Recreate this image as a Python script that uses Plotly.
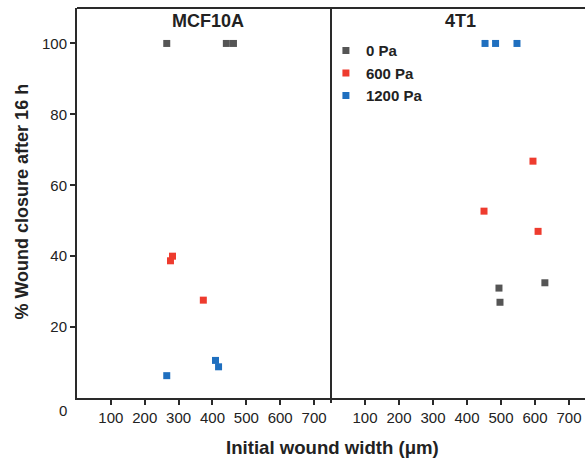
import plotly.graph_objects as go

# Data
groups = ["0 Pa", "600 Pa", "1200 Pa"]
colors = ["#555555", "#ee3b2e", "#1f6fbf"]

mcf_x = {"0 Pa": [265, 441, 462], "600 Pa": [276, 282, 373], "1200 Pa": [265, 409, 418]}
mcf_y = {"0 Pa": [100, 100, 100], "600 Pa": [38.7, 40, 27.6], "1200 Pa": [6.3, 10.6, 8.8]}
t41_x = {"0 Pa": [494, 497, 629], "600 Pa": [450, 594, 609], "1200 Pa": [453, 484, 547]}
t41_y = {"0 Pa": [31, 27, 32.5], "600 Pa": [52.7, 66.8, 47], "1200 Pa": [100, 100, 100]}

panel_titles = ["MCF10A", "4T1"]
xticks = [100, 200, 300, 400, 500, 600, 700]
yticks = [20, 40, 60, 80, 100]

FONT = "Liberation Sans, Arial, sans-serif"
LINE = "#2a2a2a"
TXT = "#222222"

fig = go.Figure()
for g, c in zip(groups, colors):
    fig.add_trace(go.Scatter(x=mcf_x[g], y=mcf_y[g], mode="markers", name=g,
                             marker=dict(symbol="square", size=7, color=c),
                             xaxis="x", yaxis="y", showlegend=True))
for g, c in zip(groups, colors):
    fig.add_trace(go.Scatter(x=t41_x[g], y=t41_y[g], mode="markers", name=g,
                             marker=dict(symbol="square", size=7, color=c),
                             xaxis="x2", yaxis="y", showlegend=False))

axis_common = dict(tickvals=xticks, ticks="outside", ticklen=5, tickwidth=1.5,
                   tickcolor=LINE, showgrid=False, zeroline=False,
                   showline=True, linecolor=LINE, linewidth=2,
                   tickfont=dict(family=FONT, size=15, color=TXT))

fig.update_layout(
    width=585, height=460,
    margin=dict(l=77, r=0, t=8, b=62),
    paper_bgcolor="white", plot_bgcolor="white",
    font=dict(family=FONT, color=TXT),
    xaxis=dict(domain=[0, 0.5], range=[0, 750], **axis_common),
    xaxis2=dict(domain=[0.5, 1.0], range=[0, 747], anchor="y", **axis_common),
    yaxis=dict(range=[0, 110], tickvals=yticks, ticks="outside", ticklen=5,
               tickwidth=1.5, tickcolor=LINE, showgrid=False, zeroline=False,
               showline=True, linecolor=LINE, linewidth=2,
               tickfont=dict(family=FONT, size=15, color=TXT)),
    legend=dict(x=0.49, y=0.933, xanchor="left", yanchor="top",
                bgcolor="rgba(0,0,0,0)", tracegroupgap=0, itemwidth=30,
                font=dict(family=FONT, size=15, color=TXT, weight="bold")),
    showlegend=True,
)

# frame: top line and divider
fig.add_shape(type="line", xref="paper", yref="paper", x0=0, x1=1, y0=1, y1=1,
              line=dict(color=LINE, width=2))
fig.add_shape(type="line", xref="paper", yref="paper", x0=0.5, x1=0.5, y0=-0.013, y1=1,
              line=dict(color=LINE, width=2))

# panel titles
for i, t in enumerate(panel_titles):
    fig.add_annotation(text=t, xref="paper", yref="paper", x=0.257 + 0.497 * i, y=0.967,
                       showarrow=False, xanchor="center", yanchor="middle",
                       font=dict(family=FONT, size=18, color=TXT, weight="bold"))

# origin label "0"
fig.add_annotation(text="0", xref="paper", yref="paper", x=-0.0276, y=-0.031,
                   showarrow=False, xanchor="center", yanchor="middle",
                   font=dict(family=FONT, size=15, color=TXT))

# axis titles
fig.add_annotation(text="% Wound closure after 16 h", xref="paper", yref="paper",
                   x=-0.108, y=0.504, textangle=-90, showarrow=False,
                   xanchor="center", yanchor="middle",
                   font=dict(family=FONT, size=18, color=TXT, weight="bold"))
fig.add_annotation(text="Initial wound width (μm)", xref="paper", yref="paper",
                   x=0.502, y=-0.128, showarrow=False, xanchor="center", yanchor="middle",
                   font=dict(family=FONT, size=18.6, color=TXT, weight="bold"))

fig.write_html("out.html")
